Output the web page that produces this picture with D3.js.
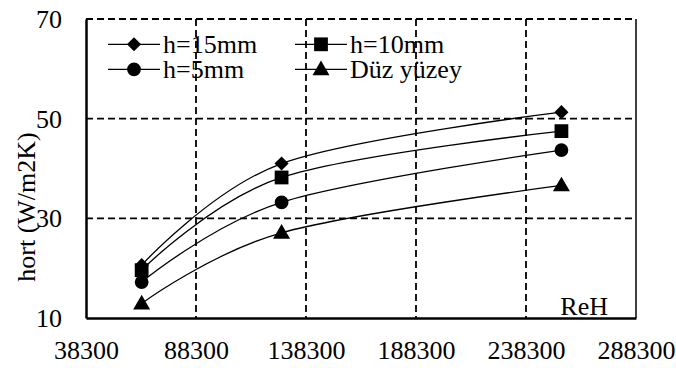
<!DOCTYPE html>
<html>
<head>
<meta charset="utf-8">
<script src="https://cdn.jsdelivr.net/npm/d3@7"></script>
<style>
  body { margin: 0; background: #fff; }
  svg { display: block; }
  text { font-family: "Liberation Serif", "Times New Roman", serif; fill: #000; }
</style>
</head>
<body>
<svg id="chart" width="676" height="368"></svg>
<script>
// ---- data ----
const reynolds = [63600, 127200, 254400];
const seriesNames = ["h=15mm", "h=10mm", "h=5mm", "Düz yüzey"];
const seriesSymbols = ["diamond", "square", "circle", "triangle"];
const h15 = [20.6, 41.0, 51.3];
const h10 = [19.6, 38.2, 47.5];
const h5 = [17.2, 33.2, 43.7];
const flat = [12.9, 27.1, 36.6];
const seriesValues = [h15, h10, h5, flat];
const xTicks = [38300, 88300, 138300, 188300, 238300, 288300];
const yTicks = [10, 30, 50, 70];
const yLabel = "hort (W/m2K)";
const xLabel = "ReH";

// ---- layout ----
const W = 676, H = 368;
const m = { left: 86, right: 40, top: 19, bottom: 50 };
const svg = d3.select("#chart");
const x = d3.scaleLinear().domain([38300, 288300]).range([m.left, W - m.right]);
const y = d3.scaleLinear().domain([10, 70]).range([H - m.bottom, m.top]);

const dash = "7,4";
// horizontal gridlines
svg.append("g").selectAll("line").data(yTicks.filter(d => d > 10)).join("line")
  .attr("x1", x(38300)).attr("x2", x(288300))
  .attr("y1", d => y(d)).attr("y2", d => y(d))
  .attr("stroke", "#000").attr("stroke-width", 1.8).attr("stroke-dasharray", dash);
// vertical gridlines
svg.append("g").selectAll("line").data(xTicks.slice(1, -1)).join("line")
  .attr("x1", d => x(d)).attr("x2", d => x(d))
  .attr("y1", y(70)).attr("y2", y(10))
  .attr("stroke", "#000").attr("stroke-width", 1.8).attr("stroke-dasharray", dash);
// right border
svg.append("line")
  .attr("x1", x(288300)).attr("x2", x(288300)).attr("y1", y(70)).attr("y2", y(10))
  .attr("stroke", "#000").attr("stroke-width", 1.5);

// axes
const xAxis = d3.axisBottom(x).tickValues(xTicks).tickSize(0).tickPadding(0).tickFormat(d3.format("d"));
const gx = svg.append("g").attr("transform", `translate(0,${y(10)})`).call(xAxis);
gx.attr("font-family", null);
gx.select(".domain").attr("stroke", "#000").attr("stroke-width", 2.5);
gx.selectAll("text").attr("font-size", 26).attr("dy", null).attr("y", 41);

const yAxis = d3.axisLeft(y).tickValues(yTicks).tickSize(0).tickPadding(0).tickFormat(d3.format("d"));
const gy = svg.append("g").attr("transform", `translate(${x(38300)},0)`).call(yAxis);
gy.attr("font-family", null);
gy.select(".domain").attr("stroke", "#000").attr("stroke-width", 2.5);
gy.selectAll("text").attr("font-size", 26).attr("x", -24).attr("dy", "0.33em");

// series lines
const line = d3.line().x((d, i) => x(reynolds[i])).y(d => y(d)).curve(d3.curveCardinal.tension(0));
svg.append("g").selectAll("path").data(seriesValues).join("path")
  .attr("d", d => line(d)).attr("fill", "none").attr("stroke", "#000").attr("stroke-width", 1.3);

// markers
const symType = { diamond: d3.symbolSquare, square: d3.symbolSquare, circle: d3.symbolCircle, triangle: d3.symbolTriangle };
const symSize = { diamond: 100, square: 190, circle: 150, triangle: 125 };
function sym(name) { return d3.symbol().type(symType[name]).size(symSize[name])(); }
function symXf(name) { return name === "diamond" ? " rotate(45)" : (name === "triangle" ? " translate(0,1)" : ""); }
seriesValues.forEach((vals, si) => {
  const s = seriesSymbols[si];
  svg.append("g").selectAll("path").data(vals).join("path")
    .attr("d", sym(s))
    .attr("transform", (d, i) => `translate(${x(reynolds[i])},${y(d)})` + symXf(s))
    .attr("fill", "#000");
});

// x label
svg.append("text").attr("x", 608).attr("y", 315).attr("text-anchor", "end")
  .attr("font-size", 26).text(xLabel);

// y label
svg.append("text").attr("transform", "translate(34.5,207) rotate(-90)")
  .attr("text-anchor", "middle").attr("font-size", 26).text(yLabel);

// legend
const legPos = [[108, 44.3], [295, 44.3], [108, 69.3], [295, 69.3]];
seriesNames.forEach((name, i) => {
  const [lx, ly] = legPos[i];
  const s = seriesSymbols[i];
  const g = svg.append("g").attr("transform", `translate(${lx},${ly})`);
  g.append("line").attr("x1", 0).attr("x2", 52).attr("y1", 0).attr("y2", 0)
    .attr("stroke", "#000").attr("stroke-width", 1.3);
  g.append("path").attr("d", sym(s))
    .attr("transform", "translate(26,0)" + symXf(s)).attr("fill", "#000");
  g.append("text").attr("x", 55).attr("y", 9).attr("font-size", 26).text(name);
});
</script>
</body>
</html>
